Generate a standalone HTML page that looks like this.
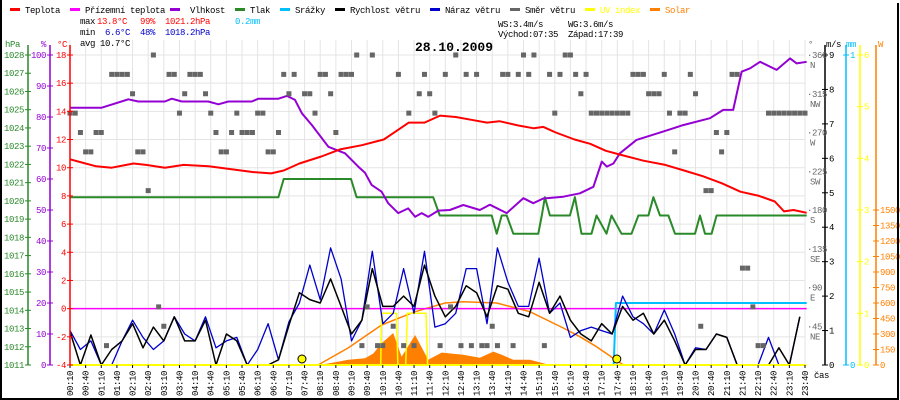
<!DOCTYPE html>
<html><head><meta charset="utf-8">
<style>
html,body{margin:0;padding:0;background:#fff;}
svg{display:block;}
text{font-family:"Liberation Mono",monospace;font-size:9px;letter-spacing:-0.4px;}
</style></head>
<body>
<svg id="chart" width="900" height="400" viewBox="0 0 900 400" xmlns="http://www.w3.org/2000/svg">
<rect x="0" y="0" width="900" height="400" fill="#fff"/>
<g id="grid"></g>
<g id="series"></g>
<g id="axes"></g>
<g id="legend"></g>
<g>
<text x="80" y="24" fill="#000">max</text>
<text x="97" y="24" fill="#f00">13.8°C</text>
<text x="140" y="24" fill="#f00">99%</text>
<text x="165" y="24" fill="#f00">1021.2hPa</text>
<text x="235" y="24" fill="#00bfff">0.2mm</text>
<text x="80" y="35" fill="#000">min</text>
<text x="105" y="35" fill="#00c">6.6°C</text>
<text x="140" y="35" fill="#00c">48%</text>
<text x="165" y="35" fill="#00c">1018.2hPa</text>
<text x="80" y="46" fill="#000">avg 10.7°C</text>
<text x="498" y="27" fill="#000">WS:3.4m/s</text>
<text x="568" y="27" fill="#000">WG:3.6m/s</text>
<text x="498" y="37" fill="#000">Východ:07:35</text>
<text x="568" y="37" fill="#000">Západ:17:39</text>
<text x="415" y="51" fill="#000" style="font-size:13px;font-weight:bold;letter-spacing:0">28.10.2009</text>
</g>
<path d="M1 0 V399 H898 V3" fill="none" stroke="#000" stroke-width="2"/>
</svg>
<script>
// ---- data ----
const tempH = [0.17,0.5,1.0,1.5,2.2,2.6,3.2,3.8,4.6,5.3,6.0,6.6,7.0,7.5,8.2,8.8,9.5,10.2,10.6,11.0,11.5,12.0,12.5,13.0,13.5,13.9,14.5,15.0,15.3,15.7,16.3,16.8,17.3,17.8,18.5,19.2,19.8,20.4,21.0,21.6,22.2,22.7,23.0,23.3,23.72];
const tempV = [10.6,10.4,10.1,10.0,10.3,10.2,10.0,10.2,10.1,9.9,9.7,9.6,9.8,10.3,10.8,11.3,11.6,12.0,12.6,13.2,13.2,13.7,13.6,13.4,13.2,13.3,13.0,12.8,12.9,12.5,12.0,11.7,11.2,10.9,10.5,10.2,9.8,9.4,8.9,8.3,8.0,7.6,6.9,7.0,6.8];
const humH = [0.17,1.18,2.03,2.35,3.2,3.42,3.74,4.59,4.91,5.23,5.98,6.19,6.83,7.1,7.36,7.58,7.9,8.43,8.96,9.38,9.6,9.81,10.13,10.34,10.66,10.98,11.2,11.41,11.62,11.94,12.31,12.74,13.27,13.59,14.13,14.66,14.98,15.3,15.94,16.47,16.9,17.17,17.33,17.54,17.75,18.28,19.13,19.77,20.63,21.05,21.37,21.64,21.91,22.23,22.76,23.19,23.4,23.72];
const humV = [83,83,85.7,85,85,85.9,85,85,84.1,85,85,85.9,85.9,86.8,85.5,81.2,77.4,70.4,68.3,64,62,58.1,55.9,52.2,49,50.5,47.8,49,47.8,49.8,50,51.6,50,51.7,49,53.8,52.2,53.7,54.3,55.4,57.5,65.6,64,65,68.3,72.6,75.3,77.4,79.6,82.3,82.3,94.6,95.7,97.8,95.2,98.9,97.3,97.8];
const presH = [0.17,6.83,7.0,9.15,9.33,11.78,11.99,13.65,13.81,13.97,14.13,14.34,15.14,15.25,15.35,15.51,16.15,16.31,16.52,16.84,17.0,17.32,17.48,17.8,18.12,18.34,18.66,18.82,19.03,19.3,19.51,20.15,20.31,20.47,20.68,20.84,23.72];
const presV = [1020.2,1020.2,1021.2,1021.2,1020.2,1020.2,1019.2,1019.2,1018.2,1019.2,1019.2,1018.2,1018.2,1019.2,1020.2,1019.2,1019.2,1020.2,1018.2,1018.2,1019.2,1018.2,1019.2,1018.2,1018.2,1019.2,1019.2,1020.2,1019.2,1019.2,1018.2,1018.2,1019.2,1018.2,1018.2,1019.2,1019.2];
// wind every 20 min from 00:10
const windSpeed = [0.97,0,0.87,0,0.45,0.7,1.2,0.5,1.1,0.7,1.4,0.7,0.7,1.3,0,0.9,0.7,0,0,0,0.15,1.15,2.1,1.9,1.8,2.5,1.7,0.9,1.3,2.8,1.7,1.7,2.0,1.7,2.9,2.0,1.4,1.7,2.3,2.1,1.4,2.3,2.2,1.5,1.4,2.4,1.5,2.0,1.3,0.9,0.7,1.2,0.9,1.7,1.3,1.5,0.9,1.3,0.7,0,0.45,0.45,0.9,0.8,0,0,0,0,0.5,0,1.4];
const windGust = [1.0,0.45,0.7,0,0,0.7,1.3,0.8,0.45,0.7,1.4,0.9,0.7,1.4,0.5,0.7,0.8,0,0.45,1.2,0.15,1.25,1.8,2.9,1.9,3.4,2.5,0.7,1.3,3.3,1.2,1.5,2.8,1.5,3.3,1.1,1.2,1.5,2.8,2.8,1.2,3.4,2.4,1.7,1.7,3.1,1.5,1.8,0.8,1.0,1.1,1.0,0.9,2.0,1.4,1.2,0.9,1.6,0.9,0,0.5,0.45,0.9,0.8,0,0,0,0.8,0,0,1.4];
// wind direction every 10 min from 00:10 (degrees, null = none)
const windDir = [292.5,292.5,270,247.5,247.5,270,270,22.5,337.5,337.5,337.5,337.5,315,247.5,247.5,202.5,360,67.5,45,337.5,337.5,292.5,315,337.5,337.5,337.5,315,292.5,270,247.5,247.5,270,292.5,270,270,270,292.5,292.5,247.5,247.5,270,337.5,315,337.5,null,315,315,292.5,337.5,337.5,315,270,337.5,337.5,337.5,360,22.5,67.5,360,22.5,22.5,null,45,337.5,22.5,292.5,22.5,315,337.5,315,292.5,22.5,337.5,67.5,360,22.5,337.5,22.5,337.5,22.5,22.5,45,22.5,337.5,337.5,22.5,337.5,360,337.5,360,null,22.5,337.5,292.5,337.5,360,360,337.5,315,337.5,292.5,292.5,292.5,292.5,292.5,292.5,292.5,292.5,337.5,337.5,337.5,315,315,315,337.5,292.5,247.5,292.5,292.5,337.5,315,45,202.5,202.5,270,247.5,270,337.5,337.5,112.5,112.5,67.5,22.5,22.5,292.5,292.5,292.5,292.5,292.5,292.5,292.5,292.5];
const solarH = [8.1,8.53,9.06,9.6,9.86,10.13,10.5,10.77,11.2,11.62,12.05,12.74,13.27,13.7,13.97,14.34,14.87,15.51];
const solarV = [0,20,50,65,110,210,310,80,290,50,120,100,70,130,100,50,50,0];
const solarMaxH = [8.1,9.06,10.13,11.2,12.16,12.74,13.81,14.87,15.94,16.47,17.0,17.54,17.86];
const solarMaxV = [0,165,387,516,600,613,600,516,358,274,177,65,0];
const uvH = [0.17,10.1,10.13,10.6,10.65,10.9,10.95,11.55,11.6,23.72];
const uvV = [0,0,1,1,0,0,1,1,0,0];
const rainH = [0.17,17.55,17.62,23.72];
const rainV = [0,0,0.2,0.2];
const apparentH = [0.17,23.72];
const apparentV = [0,0];
const sunEvents = ["07:35","17:39"];
const tempTicks = [18,16,14,12,10,8,6,4,2,0,-2,-4];
const humTicks = [100,90,80,70,60,50,40,30,20,10,0];
const presTicks = [1028,1027,1026,1025,1024,1023,1022,1021,1020,1019,1018,1017,1016,1015,1014,1013,1012,1011];
const dirTicks = [360,315,270,225,180,135,90,45];
const dirNames = ["N","NW","W","SW","S","SE","E","NE"];
const windTicks = [9,8,7,6,5,4,3,2,1,0];
const uvTicks = [6,5,4,3,2,1,0];
const solarTicks = [1500,1350,1200,1050,900,750,600,450,300,150,0];

// ---- scales ----
const X0=70, X1=805, YT=55, YB=365;
const xH = h => X0 + (h*60-10)/10*((X1-X0)/141);
const yT = v => YB - (v+4)/22*(YB-YT);
const yHum = v => YB - v/100*(YB-YT);
const yP = v => YB - (v-1011)/17*(YB-YT);
const yDir = v => YB - v/360*(YB-YT);
const yW = v => YB - v/9*(YB-YT);
const yRain = v => YB - v/1*(YB-YT);
const yUV = v => YB - v/6*(YB-YT);
const ySol = v => YB - v/1500*(YB-210);

const NS="http://www.w3.org/2000/svg";
function mk(tag, attrs, parent){const e=document.createElementNS(NS,tag);for(const k in attrs)e.setAttribute(k,attrs[k]);parent.appendChild(e);return e;}
const grid=document.getElementById('grid'), ser=document.getElementById('series'), axes=document.getElementById('axes'), leg=document.getElementById('legend');

// grid
for(let i=0;i<48;i++){
  const h=(10+30*i)/60, x=xH(h);
  const l=mk('line',{x1:x,y1:YT-15,x2:x,y2:YB,stroke:'#e4e4e4','stroke-width':1},grid);
  
  
  const hh=Math.floor(h), mm=Math.round((h-hh)*60);
  const lab=(hh<10?'0':'')+hh+':'+(mm<10?'0':'')+mm;
  const t=mk('text',{x:0,y:0,transform:`translate(${x+3},396) rotate(-90)`,fill:'#000'},axes);
  t.textContent=lab;
  
  
  const tk=mk('line',{x1:x,y1:YB,x2:x,y2:YB+3,stroke:'#000'},axes);
  
  
}
tempTicks.forEach(v=>{
  const y=yT(v);
  const l=mk('line',{x1:X0,y1:y,x2:X1,y2:y,stroke:'#e4e4e4'},grid);
  
  
});

function poly(hs,vs,xs,ys,color,w,name){
  const pts=hs.map((h,i)=>xs(h).toFixed(1)+','+ys(vs[i]).toFixed(1)).join(' ');
  const p=mk('polyline',{points:pts,fill:'none',stroke:color,'stroke-width':w,'stroke-linejoin':'round'},ser);
  
  
  return p;
}
// solar area
{
  let d='M'+xH(solarH[0])+','+YB;
  solarH.forEach((h,i)=>{d+=' L'+xH(h).toFixed(1)+','+ySol(solarV[i]).toFixed(1);});
  d+=' L'+xH(solarH[solarH.length-1])+','+YB+' Z';
  const a=mk('path',{d:d,fill:'#ff8000'},ser);
  
  
}
poly(solarMaxH,solarMaxV,xH,ySol,'#ff8000',1.5,'solar-max-line');
poly(uvH,uvV,xH,yUV,'#ffff00',1.5,'uv-line');
poly(apparentH,apparentV,xH,yT,'#ff00ff',1.5,'apparent-temp-line');
poly(rainH,rainV,xH,yRain,'#00bfff',2,'rain-line');
poly(presH,presV,xH,yP,'#2a8a2a',2,'pressure-line');
poly(humH,humV,xH,yHum,'#9400d3',2,'humidity-line');
poly(tempH,tempV,xH,yT,'#ff0000',2,'temperature-line');
const windHs=windSpeed.map((v,i)=>(10+20*i)/60);
poly(windHs,windGust,xH,yW,'#0000cc',1.3,'wind-gust-line');
poly(windHs,windSpeed,xH,yW,'#000',1.5,'wind-speed-line');
windDir.forEach((d,i)=>{
  if(d===null) return;
  const x=xH((10+10*i)/60), y=yDir(d);
  const r=mk('rect',{x:x-2.5,y:y-2.5,width:5,height:5,fill:'#666'},ser);
  
  
});
sunEvents.forEach(s=>{
  const [hh,mm]=s.split(':').map(Number);
  const c=mk('circle',{cx:xH(hh+mm/60),cy:YB-6,r:4,fill:'#ff0',stroke:'#000','stroke-width':1},ser);
  
  
});
{const l=mk('line',{x1:X0,y1:YB,x2:X1,y2:YB,stroke:'#ff0','stroke-width':2},ser);

}

// axes
function vaxis(x,color,ticks,sc,side,name){
  const l=mk('line',{x1:x,y1:YT-10,x2:x,y2:YB,stroke:color,'stroke-width':1.5},axes);
  
  
  ticks.forEach(v=>{
    const y=sc(v);
    const t=mk('line',{x1:x-3,y1:y,x2:x+3,y2:y,stroke:color},axes);
    
    
    const tx=mk('text',{x:side<0?x-4:x+4,y:y+3,fill:color,'text-anchor':side<0?'end':'start'},axes);
    tx.textContent=v;
    
    
  });
}
vaxis(28,'#2a8a2a',presTicks,yP,-1,'pressure-axis');
vaxis(50,'#9400d3',humTicks,yHum,-1,'humidity-axis');
vaxis(70,'#ff0000',tempTicks,yT,-1,'temperature-axis');
vaxis(825,'#000',windTicks,yW,1,'wind-axis');
vaxis(846,'#00bfff',[1,0],yRain,1,'rain-axis');
vaxis(860,'#ffff00',uvTicks,yUV,1,'uv-axis');
{
  const l=mk('line',{x1:876,y1:YT-10,x2:876,y2:YB,stroke:'#ff8000','stroke-width':1.5},axes);
  
  
  solarTicks.forEach(v=>{
    const y=ySol(v);
    const t=mk('line',{x1:873,y1:y,x2:879,y2:y,stroke:'#ff8000'},axes);
    
    
    const tx=mk('text',{x:880,y:y+3,fill:'#ff8000'},axes);
    tx.textContent=v;
    
    
  });
}
dirTicks.forEach((v,i)=>{
  const y=yDir(v);
  const t=mk('text',{x:807,y:y+3,fill:'#666'},axes);
  t.textContent='·'+v;
  
  
  const n=mk('text',{x:810,y:y+13,fill:'#666'},axes);
  n.textContent=dirNames[i];
  
  
});
[['hPa',5,'#2a8a2a'],['%',41,'#9400d3'],['°C',57,'#ff0000'],['°',808,'#666'],['m/s',826,'#000'],['mm',846,'#00bfff'],['W',878,'#ff8000']].forEach(a=>{
  const t=mk('text',{x:a[1],y:47,fill:a[2]},axes);
  t.textContent=a[0];
  
  
});
{const t=mk('text',{x:814,y:378,fill:'#000'},axes);
t.textContent='čas';

}

// legend
[['Teplota','#f00',10,25],['Přízemní teplota','#f0f',70,85],['Vlhkost','#9400d3',170,190],['Tlak','#2a8a2a',235,250],['Srážky','#00bfff',280,295],['Rychlost větru','#000',335,350],['Náraz větru','#00c',430,445],['Směr větru','#666',510,525],['UV index','#ff0',585,600],['Solar','#ff8000',650,665]].forEach(a=>{
  const m=mk('rect',{x:a[2],y:8,width:10,height:3,fill:a[1]},leg);
  
  
  const t=mk('text',{x:a[3],y:13,fill:(a[0]==='UV index'||a[0]==='Solar')?a[1]:'#000'},leg);
  t.textContent=a[0];
  
  
});
</script>
</body></html>
